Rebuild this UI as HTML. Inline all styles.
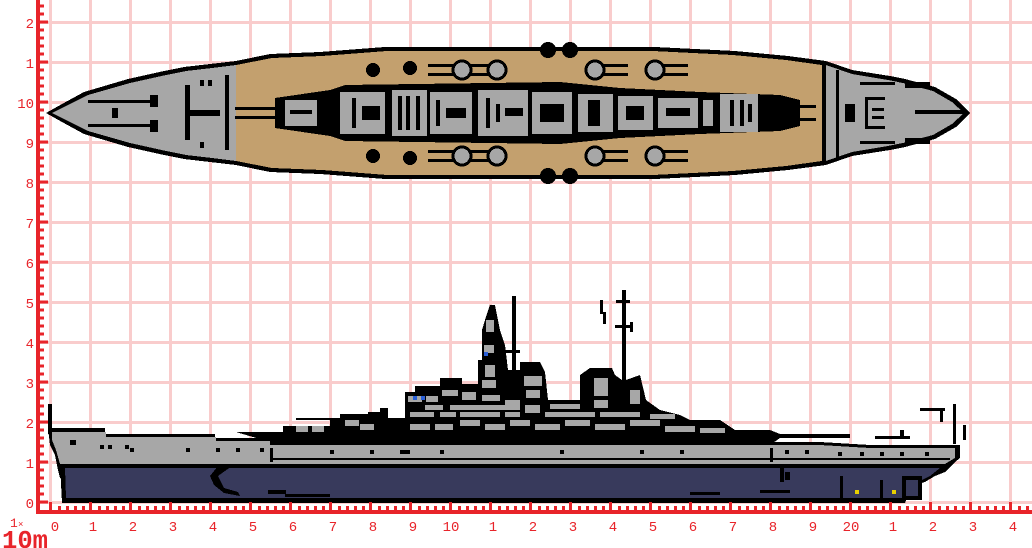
<!DOCTYPE html>
<html><head><meta charset="utf-8"><style>
html,body{margin:0;padding:0;background:#fff;width:1032px;height:548px;overflow:hidden}
svg{display:block}
text{font-family:"Liberation Mono",monospace;fill:#e8242a}
</style></head><body>
<svg width="1032" height="548" viewBox="0 0 1032 548" shape-rendering="crispEdges" xmlns="http://www.w3.org/2000/svg">
<g fill="#f9cccc">
<rect x="49" y="0" width="3" height="510"/><rect x="89" y="0" width="3" height="510"/><rect x="129" y="0" width="3" height="510"/><rect x="169" y="0" width="3" height="510"/><rect x="209" y="0" width="3" height="510"/><rect x="249" y="0" width="3" height="510"/><rect x="289" y="0" width="3" height="510"/><rect x="329" y="0" width="3" height="510"/><rect x="369" y="0" width="3" height="510"/><rect x="409" y="0" width="3" height="510"/><rect x="449" y="0" width="3" height="510"/><rect x="489" y="0" width="3" height="510"/><rect x="529" y="0" width="3" height="510"/><rect x="569" y="0" width="3" height="510"/><rect x="609" y="0" width="3" height="510"/><rect x="649" y="0" width="3" height="510"/><rect x="689" y="0" width="3" height="510"/><rect x="729" y="0" width="3" height="510"/><rect x="769" y="0" width="3" height="510"/><rect x="809" y="0" width="3" height="510"/><rect x="849" y="0" width="3" height="510"/><rect x="889" y="0" width="3" height="510"/><rect x="929" y="0" width="3" height="510"/><rect x="969" y="0" width="3" height="510"/><rect x="1009" y="0" width="3" height="510"/>
<rect x="40" y="21" width="992" height="3"/><rect x="40" y="61" width="992" height="3"/><rect x="40" y="101" width="992" height="3"/><rect x="40" y="141" width="992" height="3"/><rect x="40" y="181" width="992" height="3"/><rect x="40" y="221" width="992" height="3"/><rect x="40" y="261" width="992" height="3"/><rect x="40" y="301" width="992" height="3"/><rect x="40" y="341" width="992" height="3"/><rect x="40" y="381" width="992" height="3"/><rect x="40" y="421" width="992" height="3"/><rect x="40" y="461" width="992" height="3"/><rect x="40" y="501" width="992" height="3"/>
</g>

<!-- TOP VIEW -->
<polygon fill="#000" points="46,113 62,104 84,92 128,79 164,71 184,67 210,64 236,61 270,54 320,52 385,47 655,47 735,51 788,56 826,61 852,70 890,76 905,79 935,87 956,99 970,113 956,127 935,139 905,147 890,150 852,156 826,165 788,170 735,175 655,179 385,179 320,174 270,172 236,165 210,162 184,159 164,155 128,147 84,134 62,122"/>
<polygon fill="#a7a7a7" points="52,113 66,106 88,95 130,83 166,75 186,71 212,68 236,65 236,161 212,158 186,155 166,151 130,143 88,131 66,120"/>
<polygon fill="#c3a06e" points="236,65 272,58 322,56 387,51 653,51 733,55 786,60 822,65 822,161 786,166 733,171 653,175 387,175 322,170 272,168 236,161"/>
<polygon fill="#a7a7a7" points="826,65 852,74 888,80 903,83 933,91 952,102 964,113 952,124 933,135 903,143 888,146 852,152 826,161"/>
<g fill="#000">
<rect x="88" y="100" width="70" height="3"/><rect x="88" y="124" width="70" height="3"/><rect x="112" y="108" width="6" height="10"/>
<rect x="150" y="95" width="8" height="12"/><rect x="150" y="120" width="8" height="12"/><rect x="185" y="85" width="5" height="55"/><rect x="190" y="110" width="30" height="6"/><rect x="225" y="75" width="4" height="75"/>
<rect x="200" y="80" width="4" height="6"/><rect x="208" y="80" width="4" height="6"/><rect x="200" y="142" width="4" height="6"/>
<rect x="836" y="70" width="3" height="88"/><rect x="845" y="104" width="10" height="18"/><rect x="865" y="97" width="3" height="32"/><rect x="865" y="97" width="20" height="3"/><rect x="865" y="126" width="20" height="3"/><rect x="872" y="108" width="12" height="3"/><rect x="872" y="116" width="12" height="3"/>
<rect x="915" y="110" width="50" height="4"/><rect x="905" y="82" width="25" height="6"/><rect x="905" y="138" width="25" height="6"/><rect x="860" y="82" width="35" height="3"/><rect x="860" y="141" width="35" height="3"/>
</g>
<polygon fill="#000" points="275,98 330,90 345,85 560,82 620,88 700,92 780,95 800,100 800,126 780,131 700,134 620,138 560,144 345,141 330,136 275,128"/>
<g fill="#a7a7a7">
<rect x="285" y="100" width="32" height="26"/><rect x="340" y="92" width="45" height="42"/><rect x="392" y="90" width="35" height="46"/><rect x="430" y="92" width="42" height="42"/><rect x="478" y="90" width="50" height="46"/><rect x="532" y="92" width="40" height="42"/><rect x="578" y="94" width="35" height="38"/><rect x="618" y="96" width="35" height="34"/><rect x="658" y="98" width="40" height="30"/><rect x="720" y="94" width="38" height="38"/>
</g>
<g fill="#000">
<rect x="290" y="110" width="22" height="4"/><rect x="352" y="98" width="4" height="30"/><rect x="362" y="106" width="18" height="14"/><rect x="398" y="96" width="4" height="34"/><rect x="406" y="96" width="4" height="34"/><rect x="416" y="96" width="4" height="34"/><rect x="436" y="100" width="4" height="26"/><rect x="446" y="108" width="20" height="10"/><rect x="486" y="98" width="4" height="30"/><rect x="496" y="104" width="4" height="18"/><rect x="505" y="108" width="18" height="8"/><rect x="540" y="104" width="24" height="18"/><rect x="588" y="100" width="12" height="26"/><rect x="626" y="106" width="18" height="14"/><rect x="666" y="108" width="24" height="8"/><rect x="730" y="100" width="4" height="26"/><rect x="740" y="100" width="4" height="26"/><rect x="748" y="104" width="4" height="18"/>
<rect x="235" y="107" width="50" height="3"/><rect x="235" y="116" width="50" height="3"/><rect x="758" y="105" width="58" height="3"/><rect x="758" y="118" width="58" height="3"/>
<rect x="700" y="96" width="16" height="34"/>
</g>
<rect x="703" y="100" width="10" height="26" fill="#a7a7a7"/>
<g fill="#000">
<circle cx="373" cy="70" r="7"/><circle cx="410" cy="68" r="7"/><circle cx="373" cy="156" r="7"/><circle cx="410" cy="158" r="7"/>
<circle cx="548" cy="50" r="8"/><circle cx="570" cy="50" r="8"/><circle cx="548" cy="176" r="8"/><circle cx="570" cy="176" r="8"/>
</g>
<g fill="#a7a7a7" stroke="#000" stroke-width="3">
<circle cx="462" cy="70" r="9"/><circle cx="497" cy="70" r="9"/><circle cx="462" cy="156" r="9"/><circle cx="497" cy="156" r="9"/>
<circle cx="595" cy="70" r="9"/><circle cx="655" cy="70" r="9"/><circle cx="595" cy="156" r="9"/><circle cx="655" cy="156" r="9"/>
</g>
<g fill="#000">
<rect x="428" y="64" width="26" height="3"/><rect x="428" y="73" width="26" height="3"/><rect x="470" y="64" width="20" height="3"/><rect x="470" y="73" width="20" height="3"/>
<rect x="428" y="150" width="26" height="3"/><rect x="428" y="159" width="26" height="3"/><rect x="470" y="150" width="20" height="3"/><rect x="470" y="159" width="20" height="3"/>
<rect x="603" y="64" width="25" height="3"/><rect x="603" y="73" width="25" height="3"/><rect x="663" y="64" width="25" height="3"/><rect x="663" y="73" width="25" height="3"/>
<rect x="603" y="150" width="25" height="3"/><rect x="603" y="159" width="25" height="3"/><rect x="663" y="150" width="25" height="3"/><rect x="663" y="159" width="25" height="3"/>
</g>

<!-- SIDE VIEW -->
<polygon fill="#000" points="236,432 283,432 283,426 330,426 330,420 296,420 296,418 340,418 340,414 368,414 368,412 380,412 380,408 388,408 388,418 405,418 405,392 415,392 415,386 440,386 440,378 462,378 462,384 478,384 478,360 482,360 482,330 485,320 490,305 495,305 500,330 505,345 508,370 520,370 520,362 540,362 545,372 548,400 580,400 580,375 590,368 612,368 615,375 622,380 622,290 626,290 626,380 640,375 646,400 660,410 680,415 690,420 720,420 735,430 770,430 780,434 850,434 850,438 780,438 770,445 280,445"/>
<rect x="512" y="296" width="4" height="80" fill="#000"/>
<rect x="505" y="350" width="15" height="3" fill="#000"/>
<g fill="#a7a7a7">
<rect x="296" y="426" width="12" height="6"/><rect x="312" y="426" width="12" height="6"/><rect x="345" y="420" width="14" height="6"/><rect x="360" y="424" width="14" height="6"/>
<rect x="408" y="396" width="14" height="6"/><rect x="426" y="396" width="12" height="6"/><rect x="442" y="390" width="16" height="6"/><rect x="425" y="405" width="18" height="5"/><rect x="410" y="412" width="24" height="5"/><rect x="440" y="412" width="16" height="5"/><rect x="410" y="424" width="20" height="6"/><rect x="435" y="424" width="18" height="6"/><rect x="460" y="420" width="20" height="6"/><rect x="485" y="424" width="20" height="6"/><rect x="510" y="420" width="20" height="6"/><rect x="535" y="424" width="25" height="6"/><rect x="565" y="420" width="25" height="6"/><rect x="595" y="424" width="30" height="6"/><rect x="630" y="420" width="30" height="6"/><rect x="665" y="426" width="30" height="6"/><rect x="700" y="428" width="25" height="5"/>
<rect x="462" y="392" width="14" height="8"/><rect x="482" y="395" width="18" height="6"/><rect x="505" y="400" width="15" height="6"/><rect x="450" y="405" width="70" height="5"/><rect x="525" y="405" width="15" height="8"/><rect x="460" y="412" width="40" height="5"/><rect x="505" y="412" width="15" height="5"/><rect x="545" y="412" width="50" height="5"/><rect x="600" y="412" width="40" height="5"/><rect x="650" y="414" width="25" height="5"/>
<rect x="486" y="320" width="8" height="12"/><rect x="484" y="345" width="10" height="8"/><rect x="485" y="365" width="10" height="12"/><rect x="482" y="380" width="14" height="8"/>
<rect x="524" y="376" width="18" height="10"/><rect x="526" y="390" width="14" height="8"/><rect x="594" y="378" width="14" height="18"/><rect x="594" y="400" width="14" height="8"/><rect x="630" y="390" width="10" height="14"/><rect x="550" y="404" width="30" height="5"/>
</g>
<rect x="484" y="352" width="4" height="4" fill="#2b5fd6"/><rect x="413" y="396" width="4" height="4" fill="#2b5fd6"/><rect x="421" y="396" width="4" height="4" fill="#2b5fd6"/>
<g fill="#000">
<rect x="600" y="300" width="3" height="14"/><rect x="603" y="312" width="3" height="12"/><rect x="616" y="300" width="14" height="3"/><rect x="615" y="325" width="18" height="3"/><rect x="630" y="322" width="3" height="10"/>
<rect x="920" y="408" width="25" height="3"/><rect x="940" y="410" width="3" height="12"/><rect x="953" y="404" width="3" height="40"/><rect x="963" y="425" width="3" height="15"/><rect x="875" y="436" width="35" height="3"/><rect x="900" y="430" width="4" height="8"/>
<rect x="48" y="404" width="4" height="30"/>
</g>
<polygon fill="#000" points="48,428 105,428 105,434 215,434 215,438 270,438 270,442 820,442 870,445 960,445 960,458 955,462 945,472 930,478 60,478 58,470 55,455 50,445"/>
<polygon fill="#a7a7a7" points="52,432 106,432 106,437 216,437 216,441 270,441 270,445 820,445 870,448 955,448 955,458 945,464 60,464 56,450 52,440"/>
<g fill="#000">
<rect x="270" y="458" width="680" height="2"/><rect x="270" y="448" width="3" height="14"/><rect x="770" y="448" width="3" height="14"/>
<rect x="70" y="440" width="6" height="5"/><rect x="100" y="445" width="4" height="4"/><rect x="108" y="445" width="4" height="4"/><rect x="125" y="445" width="4" height="4"/>
<rect x="130" y="448" width="4" height="4"/><rect x="186" y="448" width="4" height="4"/><rect x="216" y="448" width="4" height="4"/><rect x="236" y="448" width="4" height="4"/><rect x="260" y="448" width="4" height="4"/>
<rect x="330" y="450" width="4" height="4"/><rect x="370" y="450" width="4" height="4"/><rect x="400" y="450" width="10" height="4"/><rect x="440" y="450" width="4" height="4"/><rect x="560" y="450" width="4" height="4"/><rect x="640" y="450" width="4" height="4"/><rect x="680" y="450" width="4" height="4"/>
<rect x="785" y="450" width="4" height="4"/><rect x="805" y="450" width="4" height="4"/><rect x="838" y="452" width="4" height="4"/><rect x="860" y="452" width="4" height="4"/><rect x="880" y="452" width="4" height="4"/><rect x="900" y="452" width="4" height="4"/><rect x="925" y="452" width="4" height="4"/>
</g>
<polygon fill="#000" points="60,464 945,464 935,476 925,482 912,486 905,503 62,503"/>
<polygon fill="#383a5c" points="65,468 940,468 930,476 922,480 910,484 905,498 66,498"/>
<g fill="#000">
<polygon points="218,466 232,466 218,476 224,488 238,492 240,496 224,493 214,485 210,476"/>
<rect x="268" y="490" width="18" height="4"/><rect x="285" y="494" width="45" height="3"/>
<rect x="690" y="492" width="30" height="3"/><rect x="760" y="490" width="30" height="3"/>
<rect x="780" y="468" width="4" height="14"/><rect x="785" y="472" width="5" height="8"/>
<rect x="840" y="476" width="3" height="22"/><rect x="880" y="480" width="3" height="18"/>
<rect x="902" y="476" width="20" height="24"/>
</g>
<rect x="906" y="480" width="12" height="16" fill="#383a5c"/>
<rect x="855" y="490" width="4" height="4" fill="#e8d000"/><rect x="892" y="490" width="4" height="4" fill="#e8d000"/>

<g fill="#e8242a">
<rect x="36" y="0" width="4" height="514"/>
<rect x="36" y="510" width="996" height="4"/>
</g>
<g stroke="#e8242a" stroke-width="3">
<path d="M40 6h4M40 14h4M40 30h4M40 38h4M40 46h4M40 54h4M40 70h4M40 78h4M40 86h4M40 94h4M40 110h4M40 118h4M40 126h4M40 134h4M40 150h4M40 158h4M40 166h4M40 174h4M40 190h4M40 198h4M40 206h4M40 214h4M40 230h4M40 238h4M40 246h4M40 254h4M40 270h4M40 278h4M40 286h4M40 294h4M40 310h4M40 318h4M40 326h4M40 334h4M40 350h4M40 358h4M40 366h4M40 374h4M40 390h4M40 398h4M40 406h4M40 414h4M40 430h4M40 438h4M40 446h4M40 454h4M40 470h4M40 478h4M40 486h4M40 494h4"/>
<path d="M40 22h8M40 62h8M40 102h8M40 142h8M40 182h8M40 222h8M40 262h8M40 302h8M40 342h8M40 382h8M40 422h8M40 462h8M40 502h8"/>
</g>
<g id="bt" fill="#e8242a">
<rect x="49" y="502" width="3" height="8"/>
<rect x="58" y="506" width="3" height="4"/><rect x="66" y="506" width="3" height="4"/><rect x="74" y="506" width="3" height="4"/><rect x="82" y="506" width="3" height="4"/>
</g>
<use href="#bt" x="40"/><use href="#bt" x="80"/><use href="#bt" x="120"/><use href="#bt" x="160"/><use href="#bt" x="200"/><use href="#bt" x="240"/><use href="#bt" x="280"/><use href="#bt" x="320"/><use href="#bt" x="360"/><use href="#bt" x="400"/><use href="#bt" x="440"/><use href="#bt" x="480"/><use href="#bt" x="520"/><use href="#bt" x="560"/><use href="#bt" x="600"/><use href="#bt" x="640"/><use href="#bt" x="680"/><use href="#bt" x="720"/><use href="#bt" x="760"/><use href="#bt" x="800"/><use href="#bt" x="840"/><use href="#bt" x="880"/><use href="#bt" x="920"/><use href="#bt" x="960"/>

<g font-size="14" text-anchor="end">
<text x="34" y="28">2</text><text x="34" y="68">1</text><text x="34" y="108">10</text><text x="34" y="148">9</text><text x="34" y="188">8</text><text x="34" y="228">7</text><text x="34" y="268">6</text><text x="34" y="308">5</text><text x="34" y="348">4</text><text x="34" y="388">3</text><text x="34" y="428">2</text><text x="34" y="468">1</text><text x="34" y="508">0</text>
</g>
<g font-size="14" text-anchor="middle">
<text x="55" y="531">0</text><text x="93" y="531">1</text><text x="133" y="531">2</text><text x="173" y="531">3</text><text x="213" y="531">4</text><text x="253" y="531">5</text><text x="293" y="531">6</text><text x="333" y="531">7</text><text x="373" y="531">8</text><text x="413" y="531">9</text><text x="451" y="531">10</text><text x="493" y="531">1</text><text x="533" y="531">2</text><text x="573" y="531">3</text><text x="613" y="531">4</text><text x="653" y="531">5</text><text x="693" y="531">6</text><text x="733" y="531">7</text><text x="773" y="531">8</text><text x="813" y="531">9</text><text x="851" y="531">20</text><text x="893" y="531">1</text><text x="933" y="531">2</text><text x="973" y="531">3</text><text x="1013" y="531">4</text>
</g>
<text x="10" y="527" font-size="13">1</text><text x="18" y="527" font-size="9">×</text>
<text x="2" y="548" font-size="26" font-weight="bold" textLength="46" lengthAdjust="spacingAndGlyphs">10m</text>
</svg>
</body></html>
